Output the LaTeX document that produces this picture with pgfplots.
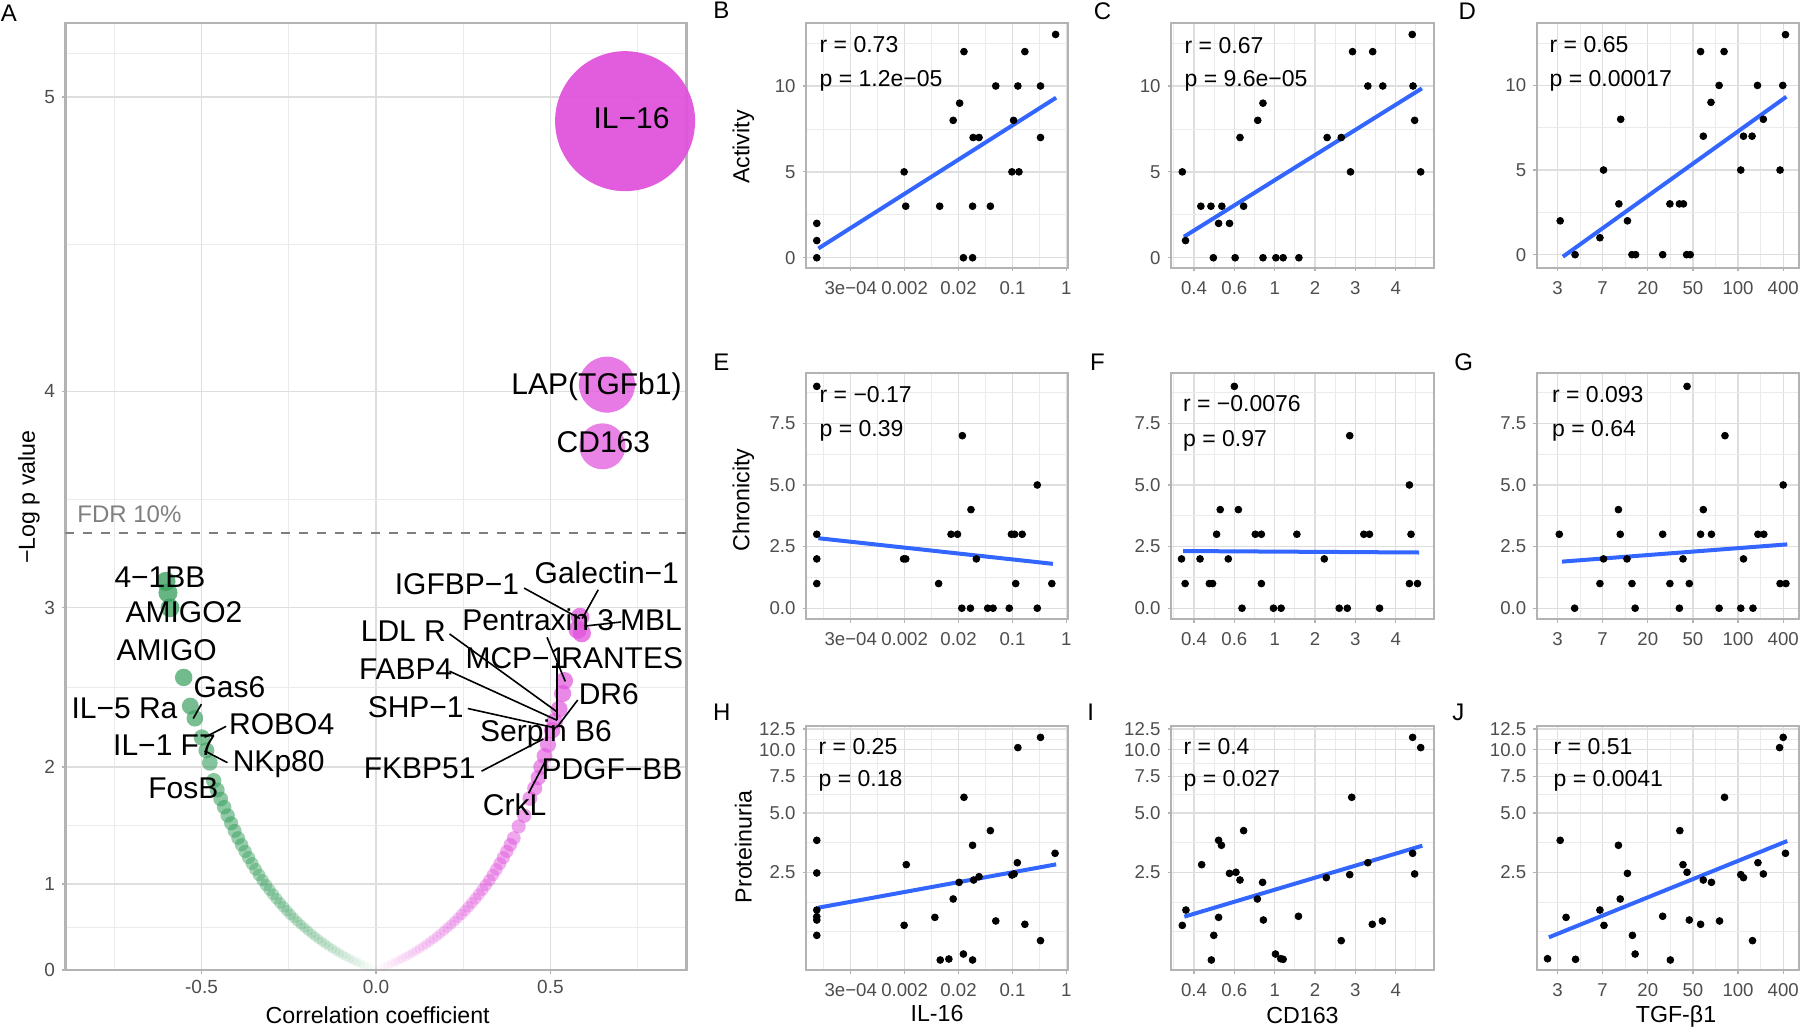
\documentclass[border=0pt]{standalone}
\usepackage{pgfplots}
\pgfplotsset{compat=1.18}
\usepackage{pgfplotstable}
\usepackage{fontspec}
\setmainfont{Liberation Sans}
\definecolor{bordergray}{HTML}{B3B3B3}
\definecolor{gridmajor}{HTML}{DEDEDE}
\definecolor{gridminor}{HTML}{EBEBEB}
\definecolor{tickgray}{HTML}{4D4D4D}
\definecolor{lineblue}{HTML}{3366FF}
\definecolor{agreen}{RGB}{58,160,95}
\definecolor{apink}{RGB}{224,84,220}
\definecolor{fdrgray}{HTML}{7F7F7F}
\newcommand{\tickfont}{\fontsize{9.3}{11}\selectfont}
\newcommand{\annfont}{\fontsize{11.5}{13}\selectfont}
\newcommand{\titfont}{\fontsize{11.6}{13}\selectfont}
\newcommand{\letfont}{\fontsize{12}{14}\selectfont}
\newcommand{\labfont}{\fontsize{15}{17}\selectfont}

\pgfplotsset{
  base/.style={
    scale only axis, anchor=south west,
    axis line style={draw=bordergray, line width=1.1pt},
    grid=both,
    major grid style={draw=gridmajor, line width=0.65pt},
    minor grid style={draw=gridminor, line width=0.4pt},
    major tick style={draw=bordergray, line width=0.6pt},
    major tick length=1.75pt, minor tick length=0pt,
    tick align=outside, tick pos=left,
    tick label style={font=\tickfont, text=tickgray},
  },
  sx/.style={xticklabel style={yshift=-1.5pt}},
  col1/.style={sx, width=131pt, xmin=-0.83, xmax=4.03, xtick={0,1,2,3,4}, xticklabels={3e−04,0.002,0.02,0.1,1}, minor xtick={-0.5,0.5,1.5,2.5,3.5}},
  col2/.style={sx, width=131.5pt, xmin=-0.57, xmax=5.95, xtick={0,1,2,3,4,5}, xticklabels={0.4,0.6,1,2,3,4}, minor xtick={-0.5,0.5,1.5,2.5,3.5,4.5,5.5}},
  col3/.style={sx, width=131.15pt, xmin=-0.46, xmax=5.35, xtick={0,1,2,3,4,5}, xticklabels={3,7,20,50,100,400}, minor xtick={0.5,1.5,2.5,3.5,4.5}},
  row1/.style={height=122.2pt, ytick={0,5,10}, yticklabels={0,5,10}, minor ytick={2.5,7.5,12.5}},
  row2/.style={height=123pt, ymin=-0.45, ymax=9.53, ytick={0,2.5,5,7.5}, yticklabels={0.0,2.5,5.0,7.5}, minor ytick={1.25,3.75,6.25,8.75}},
  row3/.style={height=122pt, ymin=0.0996, ymax=2.595, ytick={1.0986,1.7047,2.0794,2.3514,2.5649}, yticklabels={2.5,5.0,7.5,10.0,12.5}, minor ytick={0.4925,0.7956,1.4017,1.892,2.2154,2.458}},
  dots/.style={only marks, mark=*, mark size=1.7pt, black},
  fit/.style={lineblue, line width=2pt, no marks},
  vol/.style={scatter, only marks, mark=*,
    visualization depends on={2.3+0.8*\thisrow{v} \as \mysz},
    visualization depends on={min(0.93,1.3*abs(\thisrow{r})) \as \myop},
    scatter/use mapped color={fill=#1, fill opacity=\myop, draw opacity=0},
    scatter/@pre marker code/.append style={/tikz/mark size=\mysz}},
  bub/.style={only marks, mark=*, mark options={draw opacity=0, fill=apink, fill opacity=#1}},
}

% Panel A: correlation coefficient vs -log10 p
\pgfplotstableread{
r v
-0.005 0.009
-0.015 0.027
-0.025 0.045
-0.035 0.064
-0.045 0.086
-0.055 0.108
-0.065 0.130
-0.075 0.153
-0.085 0.176
-0.095 0.200
-0.105 0.226
-0.115 0.252
-0.125 0.279
-0.135 0.307
-0.145 0.336
-0.155 0.366
-0.165 0.397
-0.175 0.429
-0.185 0.462
-0.195 0.496
-0.205 0.531
-0.215 0.566
-0.225 0.603
-0.235 0.641
-0.245 0.680
-0.255 0.721
-0.265 0.763
-0.275 0.805
-0.285 0.849
-0.295 0.895
-0.305 0.941
-0.315 0.989
-0.325 1.038
-0.335 1.090
-0.345 1.143
-0.355 1.198
-0.365 1.254
-0.375 1.311
-0.385 1.370
-0.395 1.430
-0.405 1.492
-0.415 1.557
-0.425 1.622
-0.435 1.690
-0.445 1.756
-0.455 1.826
-0.465 1.898
-0.476 2.03
-0.486 2.12
-0.499 2.21
-0.519 2.34
-0.532 2.42
-0.551 2.60
-0.590 3.00
-0.596 3.08
-0.602 3.14
}\greenpts

\pgfplotstableread{
r v
0.005 0.009
0.015 0.027
0.025 0.045
0.035 0.064
0.045 0.086
0.055 0.108
0.065 0.130
0.075 0.153
0.085 0.176
0.095 0.200
0.105 0.226
0.115 0.252
0.125 0.279
0.135 0.307
0.145 0.336
0.155 0.366
0.165 0.397
0.175 0.429
0.185 0.462
0.195 0.496
0.205 0.531
0.215 0.566
0.225 0.603
0.235 0.641
0.245 0.680
0.255 0.721
0.265 0.763
0.275 0.805
0.285 0.849
0.295 0.895
0.305 0.941
0.315 0.989
0.325 1.038
0.335 1.090
0.345 1.143
0.355 1.198
0.365 1.254
0.375 1.311
0.385 1.370
0.395 1.430
0.409 1.53
0.425 1.62
0.441 1.76
0.455 1.84
0.465 1.92
0.473 2.00
0.483 2.08
0.493 2.16
0.505 2.26
0.512 2.32
0.525 2.40
0.535 2.50
0.540 2.58
0.578 2.88
0.585 2.95
0.590 2.86
}\pinkpts

\begin{document}
\begin{tikzpicture}
\useasboundingbox (0,0) rectangle (900pt,-516.5pt);

% ---------------- Panel A ----------------
\begin{axis}[base, at={(32.7pt,-485pt)}, width=310.55pt, height=473.5pt,
  xmin=-0.89, xmax=0.89, ymin=0, ymax=5.21,
  y coord trafo/.code={\pgfmathparse{1.36^(#1)-1}},
  xtick={-0.5,0,0.5}, xticklabels={-0.5,0.0,0.5},
  minor xtick={-0.75,-0.25,0.25,0.75},
  ytick={0,1,2,3,4,5}, yticklabels={0,1,2,3,4,5},
  minor ytick={0.538,1.538,2.539,3.539,4.539,5.125},
  tick label style={font=\fontsize{9.5}{11}\selectfont, text=tickgray},
]
\addplot[fdrgray, line width=1pt, dash pattern=on 4.5pt off 4.5pt] coordinates {(-0.89,3.382) (0.89,3.382)};
\addplot[vol=agreen] table[x=r, y=v] {\greenpts};
\addplot[vol=apink] table[x=r, y=v] {\pinkpts};
\addplot[bub=0.72, mark size=11.5pt] coordinates {(0.649,3.774)};
\addplot[bub=0.78, mark size=14pt] coordinates {(0.662,4.027)};
\addplot[bub=0.95, mark size=35pt] coordinates {(0.714,4.929)};
\end{axis}

% ---------------- Row 1 ----------------
\begin{axis}[base, col1, row1, at={(403pt,-133.85pt)}, ymin=-0.58, ymax=13.65]
\addplot[dots] coordinates {(-0.63,2) (-0.63,1) (-0.63,0) (0.99,5) (1.02,3) (1.65,3) (1.90,8) (2.02,9) (2.10,12) (2.09,0) (2.26,0) (2.26,3) (2.27,7) (2.38,7) (2.59,3) (2.69,10) (2.99,5) (3.02,8) (3.10,10) (3.12,5) (3.23,12) (3.52,10) (3.52,7) (3.80,13)};
\addplot[fit] coordinates {(-0.60,0.54) (3.81,9.32)};
\end{axis}
\begin{axis}[base, col2, row1, at={(585.5pt,-133.85pt)}, ymin=-0.58, ymax=13.65]
\addplot[dots] coordinates {(-0.29,5) (-0.21,1) (0.17,3) (0.42,3) (0.69,3) (0.61,2) (0.88,2) (0.48,0) (1.02,0) (1.14,7) (1.23,3) (1.58,8) (1.71,9) (1.71,0) (2.03,0) (2.21,0) (2.60,0) (3.30,7) (3.65,7) (3.88,5) (3.93,12) (4.31,10) (4.43,12) (4.68,10) (5.41,13) (5.43,10) (5.47,8) (5.62,5)};
\addplot[fit] coordinates {(-0.25,1.22) (5.65,9.86)};
\end{axis}
\begin{axis}[base, col3, row1, at={(768.35pt,-133.85pt)}, ymin=-0.77, ymax=13.67]
\addplot[dots] coordinates {(0.06,2) (0.39,0) (0.94,1) (1.02,5) (1.36,3) (1.40,8) (1.55,2) (1.65,0) (1.73,0) (2.33,0) (2.49,3) (2.70,3) (2.79,3) (2.86,0) (2.94,0) (3.17,12) (3.23,7) (3.40,9) (3.58,10) (3.69,12) (4.06,5) (4.12,7) (4.31,7) (4.43,10) (4.56,8) (4.93,5) (4.99,10) (5.05,13)};
\addplot[fit] coordinates {(0.12,-0.12) (5.07,9.33)};
\end{axis}

% ---------------- Row 2 ----------------
\begin{axis}[base, col1, row2, at={(403pt,-309.65pt)}]
\addplot[dots] coordinates {(-0.63,9) (-0.63,3) (-0.63,2) (-0.63,1) (0.98,2) (1.02,2) (1.63,1) (1.86,3) (1.98,3) (2.07,7) (2.06,0) (2.22,0) (2.23,4) (2.33,2) (2.54,0) (2.64,0) (2.94,0) (2.98,3) (3.04,3) (3.06,1) (3.18,3) (3.46,5) (3.46,0) (3.73,1)};
\addplot[fit] coordinates {(-0.60,2.84) (3.75,1.80)};
\end{axis}
\begin{axis}[base, col2, row2, at={(585.5pt,-309.65pt)}]
\addplot[dots] coordinates {(-0.31,2) (-0.22,1) (0.15,2) (0.56,3) (0.65,4) (0.38,1) (0.46,1) (0.85,2) (1.00,9) (1.10,4) (1.19,0) (1.52,3) (1.67,3) (1.67,1) (1.97,0) (2.16,0) (2.55,3) (3.23,2) (3.60,0) (3.80,0) (3.86,7) (4.21,3) (4.35,3) (4.60,0) (5.34,5) (5.34,1) (5.38,3) (5.54,1)};
\addplot[fit] coordinates {(-0.27,2.32) (5.58,2.26)};
\end{axis}
\begin{axis}[base, col3, row2, at={(768.35pt,-309.65pt)}]
\addplot[dots] coordinates {(0.04,3) (0.38,0) (0.94,1) (1.02,2) (1.35,4) (1.39,3) (1.54,2) (1.65,1) (1.72,0) (2.33,3) (2.49,1) (2.70,0) (2.78,2) (2.87,9) (2.92,1) (3.17,3) (3.23,4) (3.41,3) (3.58,0) (3.71,7) (4.06,0) (4.12,2) (4.33,0) (4.44,3) (4.57,3) (4.93,1) (5.00,5) (5.06,1)};
\addplot[fit] coordinates {(0.10,1.89) (5.09,2.59)};
\end{axis}

% ---------------- Row 3 ----------------
\begin{axis}[base, col1, row3, at={(403pt,-485pt)}]
\addplot[dots] coordinates {(-0.63,1.426) (-0.63,1.092) (-0.63,0.713) (-0.63,0.645) (-0.63,0.611) (-0.63,0.454) (1.03,1.177) (0.99,0.557) (1.56,0.638) (1.66,0.202) (1.82,0.212) (1.90,0.826) (2.01,0.996) (2.09,0.263) (2.10,1.866) (2.26,0.202) (2.26,1.375) (2.28,1.020) (2.38,1.054) (2.59,1.525) (2.69,0.601) (2.99,1.071) (3.03,1.082) (3.09,1.197) (3.10,2.374) (3.23,0.567) (3.52,2.479) (3.52,0.400) (3.79,1.293)};
\addplot[fit] coordinates {(-0.60,0.737) (3.81,1.180)};
\end{axis}
\begin{axis}[base, col2, row3, at={(585.5pt,-485pt)}]
\addplot[dots] coordinates {(-0.29,0.556) (-0.20,0.713) (0.19,1.177) (0.49,0.454) (0.43,0.202) (0.61,1.426) (0.61,0.638) (0.68,1.375) (0.88,1.088) (1.04,1.099) (1.14,1.020) (1.23,1.525) (1.57,0.826) (1.70,0.996) (1.72,0.611) (2.02,0.263) (2.15,0.215) (2.21,0.209) (2.59,0.649) (3.28,1.044) (3.65,0.400) (3.86,1.075) (3.91,1.866) (4.31,1.197) (4.42,0.567) (4.67,0.601) (5.42,2.479) (5.42,1.293) (5.47,1.082) (5.62,2.374)};
\addplot[fit] coordinates {(-0.24,0.645) (5.66,1.371)};
\end{axis}
\begin{axis}[base, col3, row3, at={(768.35pt,-485pt)}]
\addplot[dots] coordinates {(-0.22,0.215) (0.06,1.426) (0.19,0.638) (0.40,0.209) (0.94,0.713) (1.03,0.556) (1.35,1.375) (1.39,0.826) (1.55,1.088) (1.66,0.454) (1.72,0.263) (2.33,0.649) (2.50,0.202) (2.71,1.525) (2.78,1.177) (2.87,1.099) (2.92,0.611) (3.17,0.567) (3.23,1.020) (3.41,0.996) (3.59,0.601) (3.70,1.866) (4.06,1.075) (4.12,1.044) (4.32,0.400) (4.44,1.197) (4.56,1.082) (4.92,2.374) (5.00,2.479) (5.05,1.293)};
\addplot[fit] coordinates {(-0.19,0.434) (5.09,1.419)};
\end{axis}

% ---------------- Text ----------------
\begin{scope}[x=0.5pt,y=-0.5pt]
\foreach \l/\px/\py in {A/9/14, B/721.3/11.7, C/1102.5/12.5, D/1467.2/12.5, E/721.3/363.3, F/1097.5/363.3, G/1463.7/363.3, H/721.7/713.3, I/1090.8/713.3, J/1458.3/713.3}
  \node[font=\letfont, text height=0.72em, text depth=0pt, inner sep=0pt] at (\px,\py) {\l};
\node[font=\titfont, rotate=90] at (743.3,147) {Activity};
\node[font=\titfont, rotate=90] at (743.3,500) {Chronicity};
\node[font=\titfont, rotate=90] at (743.3,847) {Proteinuria};
\node[font=\titfont] at (937,1014) {IL-16};
\node[font=\titfont] at (1302.5,1016) {CD163};
\node[font=\titfont] at (1676,1016) {TGF-β1};
\node[font=\titfont] at (377.7,1014.8) {Correlation coefficient};
\node[font=\titfont, rotate=90] at (29,497) {−Log p value};
\begin{scope}[every node/.style={anchor=base west, font=\annfont, inner sep=0pt}]
\node at (819.3,52.7) {r = 0.73};   \node at (819.3,86) {p = 1.2e−05};
\node at (1184.3,53.5) {r = 0.67};  \node at (1184.3,86.7) {p = 9.6e−05};
\node at (1549.3,52) {r = 0.65};    \node at (1549.3,86) {p = 0.00017};
\node at (819.3,402.7) {r = −0.17}; \node at (819.3,436.7) {p = 0.39};
\node at (1182.7,411.7) {r = −0.0076}; \node at (1182.7,446.7) {p = 0.97};
\node at (1551.7,402.7) {r = 0.093}; \node at (1551.7,436.7) {p = 0.64};
\node at (818.3,754) {r = 0.25};    \node at (818.3,786.7) {p = 0.18};
\node at (1183.3,754) {r = 0.4};    \node at (1183.3,786.7) {p = 0.027};
\node at (1553.3,754) {r = 0.51};   \node at (1553.3,786.7) {p = 0.0041};
\end{scope}
\node[anchor=base west, font=\fontsize{12}{14}\selectfont, text=fdrgray, inner sep=0pt] at (77,522) {FDR 10\%};
\begin{scope}[line width=0.8pt, black]
\draw (201.4,704.1) -- (193.2,718.6);
\draw (226.1,726.4) -- (204.6,737.3);
\draw (204.6,750.8) -- (227.5,762.7);
\draw (524.1,588.1) -- (579.9,618.6);
\draw (598.2,589.8) -- (582.2,618.6);
\draw (621.1,622) -- (584.5,626.1);
\draw (547,637.3) -- (565.3,681.4);
\draw (449.5,633.9) -- (557.1,711.9);
\draw (449.5,671.2) -- (557.1,720.3);
\draw (557.1,662.7) -- (557.1,720.3);
\draw (467.8,708.5) -- (554.7,727.8);
\draw (577.7,700) -- (557.1,727.1);
\draw (481.5,771.2) -- (543.3,739);
\draw (528.6,793.2) -- (545.5,761);
\end{scope}
\begin{scope}[every node/.style={font=\labfont, text height=0.72em, text depth=0pt, inner sep=0pt}]
\node at (160,580) {4−1BB};
\node at (184,615.5) {AMIGO2};
\node at (166.7,653.5) {AMIGO};
\node at (229.5,690.5) {Gas6};
\node at (124.5,711) {IL−5 Ra};
\node at (281.7,727.5) {ROBO4};
\node at (164.5,748.3) {IL−1 F7};
\node at (278.7,764.5) {NKp80};
\node at (183.4,791) {FosB};
\node at (457,587.5) {IGFBP−1};
\node at (606.8,576.2) {Galectin−1};
\node at (538.2,623.5) {Pentraxin 3};
\node at (651,623.5) {MBL};
\node at (403.4,634.2) {LDL R};
\node at (516,661) {MCP−1};
\node at (622.2,661) {RANTES};
\node at (405.7,672.4) {FABP4};
\node at (608.8,697.5) {DR6};
\node at (415.7,710) {SHP−1};
\node at (546,734.6) {Serpin B6};
\node at (419.7,771.3) {FKBP51};
\node at (612,771.8) {PDGF−BB};
\node at (514.6,807.9) {CrkL};
\node at (631.5,121) {IL−16};
\node at (596.5,386.9) {LAP(TGFb1)};
\node at (603.4,445.4) {CD163};
\end{scope}
\end{scope}
\end{tikzpicture}
\end{document}
